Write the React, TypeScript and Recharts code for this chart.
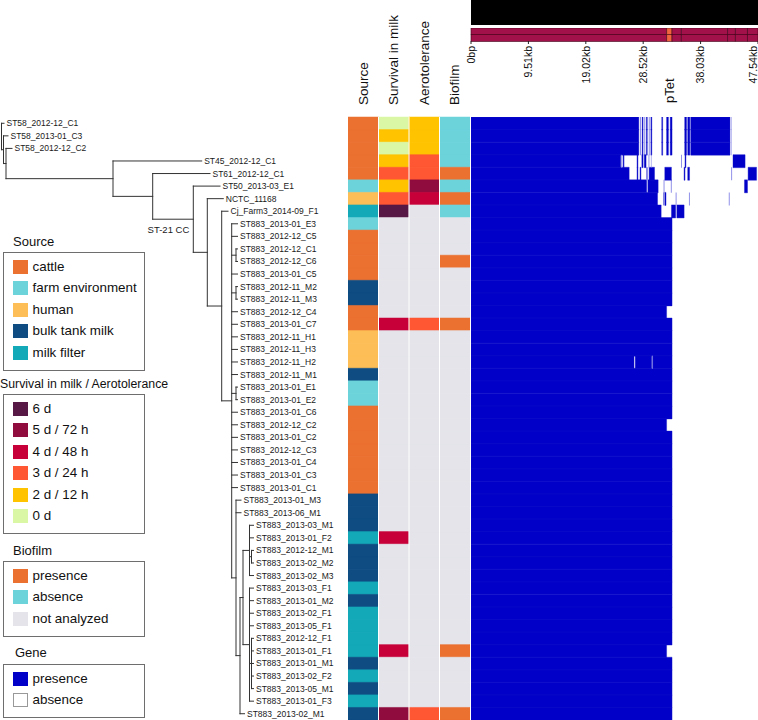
import React from 'react';
import {
  BarChart,
  Bar,
  Cell,
  ComposedChart,
  XAxis,
  YAxis,
  ReferenceLine,
  Scatter,
} from 'recharts';

const FONT = '"Liberation Sans", Arial, Helvetica, sans-serif';

// isolates, top to bottom
const taxa = [
  'ST58_2012-12_C1', 'ST58_2013-01_C3', 'ST58_2012-12_C2', 'ST45_2012-12_C1',
  'ST61_2012-12_C1', 'ST50_2013-03_E1', 'NCTC_11168', 'Cj_Farm3_2014-09_F1',
  'ST883_2013-01_E3', 'ST883_2012-12_C5', 'ST883_2012-12_C1', 'ST883_2012-12_C6',
  'ST883_2013-01_C5', 'ST883_2012-11_M2', 'ST883_2012-11_M3', 'ST883_2012-12_C4',
  'ST883_2013-01_C7', 'ST883_2012-11_H1', 'ST883_2012-11_H3', 'ST883_2012-11_H2',
  'ST883_2012-11_M1', 'ST883_2013-01_E1', 'ST883_2013-01_E2', 'ST883_2013-01_C6',
  'ST883_2012-12_C2', 'ST883_2013-01_C2', 'ST883_2012-12_C3', 'ST883_2013-01_C4',
  'ST883_2013-01_C3', 'ST883_2013-01_C1', 'ST883_2013-01_M3', 'ST883_2013-06_M1',
  'ST883_2013-03_M1', 'ST883_2013-01_F2', 'ST883_2012-12_M1', 'ST883_2013-02_M2',
  'ST883_2013-02_M3', 'ST883_2013-03_F1', 'ST883_2013-01_M2', 'ST883_2013-02_F1',
  'ST883_2013-05_F1', 'ST883_2012-12_F1', 'ST883_2013-01_F1', 'ST883_2013-01_M1',
  'ST883_2013-02_F2', 'ST883_2013-05_M1', 'ST883_2013-01_F3', 'ST883_2013-02_M1',
];

// tip position of each isolate on the tree
const tipDepth = [
  4, 8, 12, 201.7, 210, 220, 223.3, 228,
  237.5, 237.5, 237.5, 237.5, 237.5, 237.5, 237.5, 237.5,
  237.5, 237.5, 237.5, 237.5, 237.5, 237.5, 237.5, 237.5,
  237.5, 237.5, 237.5, 237.5, 237.5, 237.5, 241, 241,
  253.5, 253.5, 253.5, 253.5, 253.5, 253.5, 253.5, 253.5,
  253.5, 253.5, 253.5, 253.5, 253.5, 253.5, 253.5, 244.5,
];

type Node = number | string;
// internal nodes (numbers in children = isolate index)
const clades: { id: string; depth: number; children: Node[] }[] = [
  { id: 'root', depth: 1.5, children: [0, 'A'] },
  { id: 'A', depth: 3.5, children: [1, 'B'] },
  { id: 'B', depth: 6, children: [2, 'C'] },
  { id: 'C', depth: 113, children: [3, 'D'] },
  { id: 'D', depth: 152.7, children: [4, 'E'] },
  { id: 'E', depth: 193.3, children: [5, 'F'] },
  { id: 'F', depth: 207.3, children: [6, 'G'] },
  { id: 'G', depth: 221.7, children: [7, 'H'] },
  { id: 'H', depth: 231.7, children: [8, 9, 'h1', 12, 'h2', 15, 16, 17, 18, 19, 20, 'h3', 23, 24, 25, 26, 27, 28, 29, 'I'] },
  { id: 'h1', depth: 236, children: [10, 11] },
  { id: 'h2', depth: 236, children: [13, 14] },
  { id: 'h3', depth: 236, children: [21, 22] },
  { id: 'I', depth: 236, children: [30, 31, 'J'] },
  { id: 'J', depth: 240, children: ['N', 47] },
  { id: 'N', depth: 243, children: ['K', 'L'] },
  { id: 'K', depth: 249.5, children: [32, 33, 'M', 36] },
  { id: 'M', depth: 251.5, children: [34, 35] },
  { id: 'L', depth: 249.5, children: [37, 38, 39, 40, 'P', 46] },
  { id: 'P', depth: 251.5, children: [41, 42, 43, 44, 45] },
];
const cladeLabels = [{ node: 'E', text: 'ST-21 CC' }];

// metadata legends
const sourceCodes = ['C', 'E', 'H', 'M', 'F'];
const sourceNames = ['cattle', 'farm environment', 'human', 'bulk tank milk', 'milk filter'];
const sourceFills = ['#EB7131', '#6DD3DB', '#FDBE57', '#0E4C82', '#14A9B8'];

const levelCodes = ['6', '5', '4', '3', '2', '0'];
const levelNames = ['6 d', '5 d / 72 h', '4 d / 48 h', '3 d / 24 h', '2 d / 12 h', '0 d'];
const levelFills = ['#581845', '#900C3F', '#C70039', '#FF5733', '#FFC300', '#DAF7A6'];

const biofilmCodes = ['P', 'A', '-'];
const biofilmNames = ['presence', 'absence', 'not analyzed'];
const biofilmFills = ['#EB7131', '#6DD3DB', '#E4E4EA'];

const geneNames = ['presence', 'absence'];
const geneFills = ['#0000C8', '#FFFFFF'];
const GENE_PARTIAL = '#8585E6';
const NA_FILL = '#E4E4EA';

// per isolate values ('-' = not analyzed)
const source = [
  'C', 'C', 'C', 'C', 'C', 'E', 'H', 'F',
  'E', 'C', 'C', 'C', 'C', 'M', 'M', 'C',
  'C', 'H', 'H', 'H', 'M', 'E', 'E', 'C',
  'C', 'C', 'C', 'C', 'C', 'C', 'M', 'M',
  'M', 'F', 'M', 'M', 'M', 'F', 'M', 'F',
  'F', 'F', 'F', 'M', 'F', 'M', 'F', 'M',
];
const survival = [
  '0', '2', '0', '2', '3', '2', '3', '6',
  '-', '-', '-', '-', '-', '-', '-', '-',
  '4', '-', '-', '-', '-', '-', '-', '-',
  '-', '-', '-', '-', '-', '-', '-', '-',
  '-', '4', '-', '-', '-', '-', '-', '-',
  '-', '-', '4', '-', '-', '-', '-', '5',
];
const aerotolerance = [
  '2', '2', '2', '3', '3', '5', '4', '-',
  '-', '-', '-', '-', '-', '-', '-', '-',
  '3', '-', '-', '-', '-', '-', '-', '-',
  '-', '-', '-', '-', '-', '-', '-', '-',
  '-', '-', '-', '-', '-', '-', '-', '-',
  '-', '-', '-', '-', '-', '-', '-', '3',
];
const biofilm = [
  'A', 'A', 'A', 'A', 'P', 'A', 'P', 'A',
  '-', '-', '-', 'P', '-', '-', '-', '-',
  'P', '-', '-', '-', '-', '-', '-', '-',
  '-', '-', '-', '-', '-', '-', '-', '-',
  '-', '-', '-', '-', '-', '-', '-', '-',
  '-', '-', 'P', '-', '-', '-', '-', 'P',
];
const metaHeaders = ['Source', 'Survival in milk', 'Aerotolerance', 'Biofilm'];

// pTet reference (kb)
const genomeLength = 47.54;
const kbTicks = [0, 9.51, 19.02, 28.52, 38.03, 47.54];
const kbLabels = ['0bp', '9.51kb', '19.02kb', '28.52kb', '38.03kb', '47.54kb'];
const pTetFeatures: [number, number, string][] = [
  [0, 32.4, 'cds'], [32.4, 33.3, 'tet'], [33.3, 34.85, 'cds'], [34.85, 42.5, 'cds'],
  [42.5, 43.8, 'cds'], [43.8, 45.8, 'cds'], [45.8, 47.54, 'cds'],
];
const pTetLabel = { at: 32.85, text: 'pTet' };

// gene coverage along pTet: [start kb, end kb, 1 = present / 0 = partial]
const covST58 = [
  [0, 27.8, 1], [28.0, 28.15, 0], [28.35, 28.5, 1], [28.7, 28.85, 0], [29.05, 29.2, 1],
  [29.45, 29.6, 0], [29.8, 29.95, 1], [31.6, 31.75, 1], [32.4, 32.7, 1], [33.0, 33.3, 1],
  [35.4, 35.7, 1], [35.9, 36.25, 1], [36.4, 42.9, 1], [43.05, 43.15, 0],
];
const covST45 = [
  [0, 24.8, 1], [24.9, 25.05, 0], [25.2, 25.35, 1], [27.5, 27.65, 1], [28.3, 28.5, 1],
  [28.7, 29.0, 1], [29.4, 29.55, 0], [29.8, 29.9, 0], [34.8, 34.95, 0], [35.45, 35.6, 1],
  [43.4, 45.4, 1],
];
const covST61 = [
  [0, 26.2, 1], [27.5, 27.65, 1], [28.0, 28.15, 1], [29.0, 29.3, 0], [29.5, 30.4, 1],
  [32.1, 33.2, 1], [35.3, 35.45, 1], [35.9, 36.2, 1], [43.1, 43.25, 0], [45.9, 47.3, 1],
];
const covST50 = [[0, 29.1, 1], [29.3, 31.0, 1], [31.9, 32.05, 0], [33.1, 33.25, 0], [45.3, 45.8, 1]];
const covNCTC = [[0, 30.9, 1], [31.8, 32.0, 0], [32.1, 32.3, 1], [33.9, 34.05, 0], [36.1, 36.25, 0], [42.7, 42.85, 0]];
const covFarm3 = [[0, 31.5, 1], [33.2, 33.9, 1], [34.1, 35.3, 1]];
const covST883 = [[0, 33.3, 1]];
const covST883NoTet = [[0, 32.4, 1]];
const covST883H2 = [[0, 27.0, 1], [27.2, 29.95, 1], [29.95, 30.15, 0], [30.15, 33.3, 1]];
const upperCoverage = [covST58, covST58, covST58, covST45, covST61, covST50, covNCTC, covFarm3];
const noTetRows = [15, 24, 42];
const h2Row = 19;

// ---------- derived ----------
const cladeById: Record<string, { id: string; depth: number; children: Node[] }> = Object.fromEntries(
  clades.map((c) => [c.id, c])
);
const nodeY = (n: Node): number => {
  if (typeof n === 'number') return n + 0.5;
  const ch = cladeById[n].children;
  return (nodeY(ch[0]) + nodeY(ch[ch.length - 1])) / 2;
};
const nodeDepth = (n: Node): number => (typeof n === 'number' ? tipDepth[n] : cladeById[n].depth);

const branches = clades.flatMap((c) => {
  const ys = c.children.map(nodeY);
  const segs = [[{ x: c.depth, y: ys[0] }, { x: c.depth, y: ys[ys.length - 1] }]];
  c.children.forEach((ch, k) => segs.push([{ x: c.depth, y: ys[k] }, { x: nodeDepth(ch), y: ys[k] }]));
  return segs;
});
const leafPoints = taxa.map((name, i) => ({ x: tipDepth[i], y: i + 0.5, name }));
const cladePoints = cladeLabels.map((c) => ({ x: cladeById[c.node].depth, y: nodeY(c.node), name: c.text }));

const levelFill = (c: string) => (c === '-' ? NA_FILL : levelFills[levelCodes.indexOf(c)]);
const metaColumns = [
  source.map((c) => sourceFills[sourceCodes.indexOf(c)]),
  survival.map(levelFill),
  aerotolerance.map(levelFill),
  biofilm.map((c) => biofilmFills[biofilmCodes.indexOf(c)]),
];
const metaRows = taxa.map((name) => ({ name, c0: 1, c1: 1, c2: 1, c3: 1 }));

type Piece = { w: number; fill: string };
const toPieces = (track: any[], fillOf: (k: any) => string): Piece[] => {
  const out: Piece[] = [];
  let pos = 0;
  track.forEach(([s, e, k]) => {
    if (s > pos) out.push({ w: s - pos, fill: 'none' });
    out.push({ w: e - s, fill: fillOf(k) });
    pos = e;
  });
  return out;
};
const geneCoverage = taxa.map((_, i) =>
  i < upperCoverage.length ? upperCoverage[i] : i === h2Row ? covST883H2 : noTetRows.includes(i) ? covST883NoTet : covST883
);
const genePieces = geneCoverage.map((t) => toPieces(t, (k) => (k === 1 ? geneFills[0] : GENE_PARTIAL)));
const geneMax = Math.max(...genePieces.map((p) => p.length));
const geneRows = taxa.map((name, i) => {
  const row: Record<string, any> = { name };
  for (let j = 0; j < geneMax; j++) row[`p${j}`] = genePieces[i][j] ? genePieces[i][j].w : 0;
  return row;
});

const strandPieces = ['+', '-'].map(() => toPieces(pTetFeatures, (k) => (k === 'tet' ? '#F0643E' : '#A3114A')));
const strandRows = ['+', '-'].map((name, i) => {
  const row: Record<string, any> = { name };
  strandPieces[i].forEach((p, j) => (row[`f${j}`] = p.w));
  return row;
});

// ---------- renderers ----------
const LeafLabel = (props: any) => (
  <text x={props.cx + 2.5} y={props.cy} dy="0.35em" fontSize={8.5} fontFamily={FONT} fill="#1a1a1a">
    {props.payload.name}
  </text>
);
const CladeLabel = (props: any) => (
  <text x={props.cx - 4} y={props.cy + 10} dy="0.35em" textAnchor="end" fontSize={9.5} fontFamily={FONT} fill="#1a1a1a">
    {props.payload.name}
  </text>
);
const HeaderTick = (props: any) => (
  <text
    transform={`translate(${props.x},105) rotate(-90)`}
    dy="0.35em"
    textAnchor="start"
    fontSize={13.5}
    fontFamily={FONT}
    fill="#111"
  >
    {metaHeaders[props.index]}
  </text>
);
const KbTick = (props: any) => (
  <text
    transform={`translate(${Math.min(props.x, 288)},${props.y}) rotate(-90)`}
    dy="0.35em"
    textAnchor="end"
    fontSize={10.5}
    fontFamily={FONT}
    fill="#111"
  >
    {kbLabels[props.index]}
  </text>
);
const FeatureLabel = (props: any) => (
  <text
    transform={`translate(${props.viewBox.x},75) rotate(-90)`}
    dy="0.35em"
    textAnchor="start"
    fontSize={13}
    fontFamily={FONT}
    fill="#111"
  >
    {pTetLabel.text}
  </text>
);

const ZERO = { top: 0, right: 0, bottom: 0, left: 0 };

const LegendBox = ({ title, titleLeft, titleTop, boxTop, names, fills, fontSize = 13 }: any) => {
  const height = 14.5 + (names.length - 1) * 21.5 + 16;
  return (
    <>
      <div style={{ position: 'absolute', left: titleLeft, top: titleTop, fontSize, lineHeight: '16px', whiteSpace: 'nowrap' }}>
        {title}
      </div>
      <div style={{ position: 'absolute', left: 3, top: boxTop, width: 140, height, border: '1px solid #6e6e6e' }}>
        {names.map((n: string, i: number) => (
          <React.Fragment key={n}>
            <div
              style={{
                position: 'absolute',
                left: 9,
                top: 6.5 + i * 21.5,
                width: fills[i] === '#FFFFFF' ? 13 : 15,
                height: fills[i] === '#FFFFFF' ? 12 : 14,
                background: fills[i],
                border: fills[i] === '#FFFFFF' ? '1px solid #999' : 'none',
              }}
            />
            <div style={{ position: 'absolute', left: 28.5, top: 5.5 + i * 21.5, fontSize: 13.4, lineHeight: '16px', whiteSpace: 'nowrap' }}>
              {n}
            </div>
          </React.Fragment>
        ))}
      </div>
    </>
  );
};

export default function App() {
  return (
    <div
      style={{
        position: 'absolute',
        left: 0,
        top: 0,
        width: 758,
        height: 720,
        overflow: 'hidden',
        background: '#fff',
        fontFamily: FONT,
        color: '#111',
      }}
    >
      {/* phylogeny */}
      <div style={{ position: 'absolute', left: 0, top: 117 }}>
        <ComposedChart width={345} height={603} margin={ZERO}>
          <XAxis type="number" dataKey="x" domain={[0, 345]} hide />
          <YAxis type="number" dataKey="y" domain={[0, taxa.length]} reversed hide />
          {branches.map((s, i) => (
            <ReferenceLine key={i} segment={s} stroke="#333" strokeWidth={1} strokeLinecap="square" ifOverflow="visible" />
          ))}
          <Scatter data={leafPoints} shape={LeafLabel} isAnimationActive={false} />
          <Scatter data={cladePoints} shape={CladeLabel} isAnimationActive={false} />
        </ComposedChart>
      </div>

      {/* metadata strips */}
      <div style={{ position: 'absolute', left: 348, top: 0 }}>
        <BarChart layout="vertical" width={122} height={720} data={metaRows} margin={ZERO} barCategoryGap={0}>
          <XAxis
            type="number"
            orientation="top"
            domain={[0, 4]}
            ticks={[0.5, 1.5, 2.5, 3.5]}
            interval={0}
            height={117}
            axisLine={false}
            tickLine={false}
            tick={(p: any) => <HeaderTick {...p} />}
          />
          <YAxis type="category" dataKey="name" hide />
          {metaColumns.map((fills, ci) => (
            <Bar key={ci} dataKey={`c${ci}`} stackId="meta" isAnimationActive={false}>
              {fills.map((f, i) => (
                <Cell key={i} fill={f} stroke={f} strokeWidth={0.5} />
              ))}
            </Bar>
          ))}
          {[1, 2, 3].map((v) => (
            <ReferenceLine key={v} x={v} stroke="#ffffff" strokeWidth={1} />
          ))}
        </BarChart>
      </div>

      {/* pTet reference bar */}
      <div style={{ position: 'absolute', left: 471, top: 0 }}>
        <BarChart layout="vertical" width={287} height={25} data={[{ name: 'pTet', len: genomeLength }]} margin={ZERO} barCategoryGap={0}>
          <XAxis type="number" domain={[0, genomeLength]} hide />
          <YAxis type="category" dataKey="name" hide />
          <Bar dataKey="len" fill="#000" isAnimationActive={false} />
        </BarChart>
      </div>

      {/* pTet annotation and scale */}
      <div style={{ position: 'absolute', left: 465, top: 28 }}>
        <BarChart
          layout="vertical"
          width={293}
          height={80}
          data={strandRows}
          margin={{ top: 0, right: 0, bottom: 27, left: 6 }}
          barCategoryGap={0}
        >
          <XAxis
            type="number"
            domain={[0, genomeLength]}
            ticks={kbTicks}
            interval={0}
            height={40}
            axisLine={false}
            tickSize={3}
            tickLine={{ stroke: '#222' }}
            tick={(p: any) => <KbTick {...p} />}
          />
          <YAxis type="category" dataKey="name" hide />
          {strandPieces[0].map((_, j) => (
            <Bar key={j} dataKey={`f${j}`} stackId="feat" isAnimationActive={false} stroke="#3d0418" strokeWidth={0.6}>
              {strandPieces.map((row, i) => (
                <Cell key={i} fill={row[j].fill} />
              ))}
            </Bar>
          ))}
          <ReferenceLine x={pTetLabel.at} stroke="none" ifOverflow="visible" label={<FeatureLabel />} />
        </BarChart>
      </div>

      {/* gene presence / absence */}
      <div style={{ position: 'absolute', left: 471, top: 117 }}>
        <BarChart layout="vertical" width={287} height={603} data={geneRows} margin={ZERO} barCategoryGap={0}>
          <XAxis type="number" domain={[0, genomeLength]} allowDataOverflow hide />
          <YAxis type="category" dataKey="name" hide />
          {Array.from({ length: geneMax }, (_, j) => (
            <Bar key={j} dataKey={`p${j}`} stackId="gene" isAnimationActive={false}>
              {genePieces.map((row, i) => {
                const f = row[j] ? row[j].fill : 'none';
                return <Cell key={i} fill={f} stroke={f === geneFills[0] ? '#1414CC' : 'none'} strokeWidth={0.4} />;
              })}
            </Bar>
          ))}
        </BarChart>
      </div>

      {/* legends */}
      <LegendBox title="Source" titleLeft={13} titleTop={234} boxTop={252} names={sourceNames} fills={sourceFills} />
      <LegendBox
        title="Survival in milk / Aerotolerance"
        titleLeft={0}
        titleTop={376}
        boxTop={394}
        names={levelNames}
        fills={levelFills}
        fontSize={12.3}
      />
      <LegendBox title="Biofilm" titleLeft={13} titleTop={543} boxTop={561} names={biofilmNames} fills={biofilmFills} />
      <LegendBox title="Gene" titleLeft={15} titleTop={645} boxTop={664} names={geneNames} fills={geneFills} />
    </div>
  );
}
